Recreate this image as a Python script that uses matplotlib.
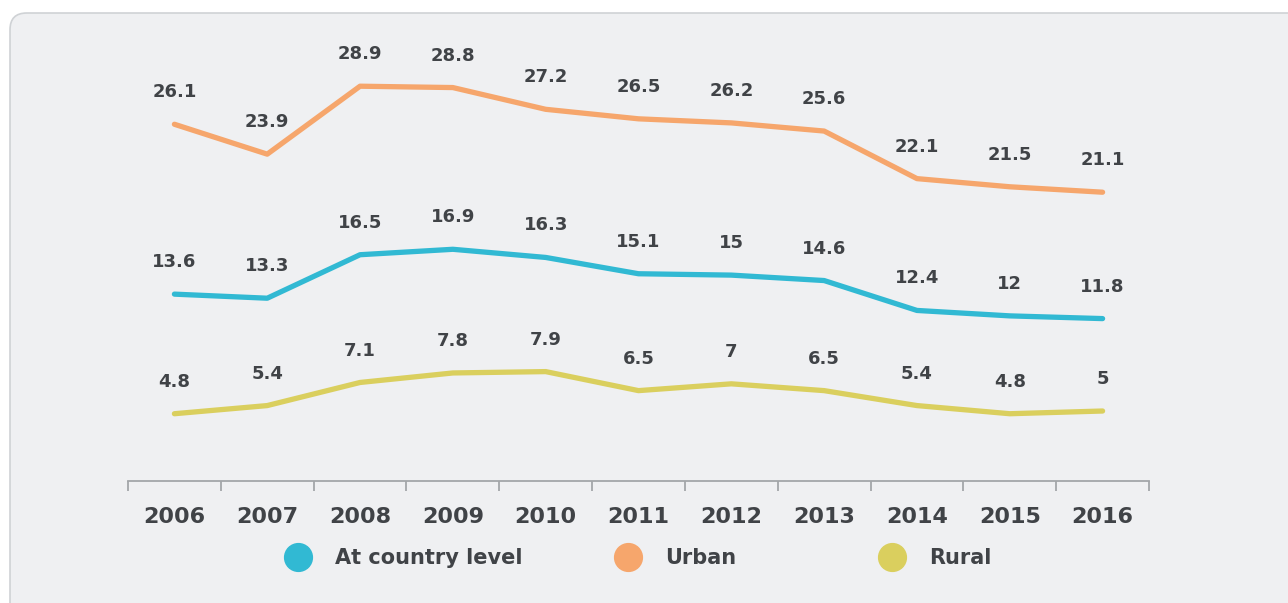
import matplotlib
matplotlib.use("Agg")
import matplotlib.pyplot as plt
from matplotlib.patches import FancyBboxPatch
from matplotlib.lines import Line2D

years = ["2006", "2007", "2008", "2009", "2010", "2011", "2012", "2013", "2014", "2015", "2016"]
country = [13.6, 13.3, 16.5, 16.9, 16.3, 15.1, 15, 14.6, 12.4, 12, 11.8]
urban = [26.1, 23.9, 28.9, 28.8, 27.2, 26.5, 26.2, 25.6, 22.1, 21.5, 21.1]
rural = [4.8, 5.4, 7.1, 7.8, 7.9, 6.5, 7, 6.5, 5.4, 4.8, 5]
series_names = ["At country level", "Urban", "Rural"]

c_country = "#31b9d3"
c_urban = "#f6a66c"
c_rural = "#dacf5e"
txt = "#404347"
bg = "#eff0f2"

plt.rcParams["font.family"] = ["DejaVu Sans"]
plt.rcParams["font.weight"] = "bold"

fig = plt.figure(figsize=(12.88, 6.03), dpi=100)
fig.patch.set_facecolor("white")

# rounded card behind the chart (top-left corner visible, runs off right/bottom)
card = FancyBboxPatch((10 / 1288, -0.2), 1.2, 1.2 - 13 / 603,
                      boxstyle="round,pad=0,rounding_size=0.013",
                      transform=fig.transFigure, facecolor=bg,
                      edgecolor="#cfd2d5", linewidth=1.2,
                      mutation_aspect=1288 / 603, zorder=-10)
fig.patches.append(card)

ax = fig.add_axes([128 / 1288, 1 - 481 / 603, (1149 - 128) / 1288, (481 - 40) / 603])
ax.set_facecolor("none")
ax.set_zorder(2)

x = list(range(len(years)))
for vals, col in [(urban, c_urban), (country, c_country), (rural, c_rural)]:
    ax.plot(x, vals, color=col, lw=3.8, solid_capstyle="round", solid_joinstyle="round")
    for xi, v in zip(x, vals):
        ax.annotate(f"{v:g}", (xi, v), xytext=(0, 23), textcoords="offset points",
                    ha="center", va="center", fontsize=13, fontweight="bold", color=txt)

ax.set_xlim(-0.5, len(years) - 0.5)
ax.set_ylim(-0.15, 32.3)
ax.set_yticks([])
for s in ["top", "left", "right"]:
    ax.spines[s].set_visible(False)
ax.spines["bottom"].set_color("#a3a6a9")
ax.spines["bottom"].set_linewidth(1.3)

ax.set_xticks(x)
ax.set_xticklabels(years, fontsize=16, fontweight="bold", color=txt)
ax.tick_params(axis="x", which="major", length=0, pad=19)
ax.set_xticks([i - 0.5 for i in range(len(years) + 1)], minor=True)
ax.tick_params(axis="x", which="minor", length=7, width=1.3, color="#a3a6a9", direction="out")

# legend: one entry each, placed by figure position
legend_pos = [299, 629, 893]
for name, col, cx in zip(series_names, [c_country, c_urban, c_rural], legend_pos):
    h = Line2D([], [], marker="o", ls="none", markersize=20, color=col)
    leg = fig.legend([h], [name], loc="center left", frameon=False,
                     bbox_to_anchor=((cx - 11) / 1288, 1 - 558 / 603),
                     borderpad=0, borderaxespad=0, handlelength=1.0,
                     handletextpad=1.25, prop={"size": 15, "weight": "bold"})
    for t in leg.get_texts():
        t.set_color(txt)

fig.savefig("out.png", dpi=100, facecolor="white")
